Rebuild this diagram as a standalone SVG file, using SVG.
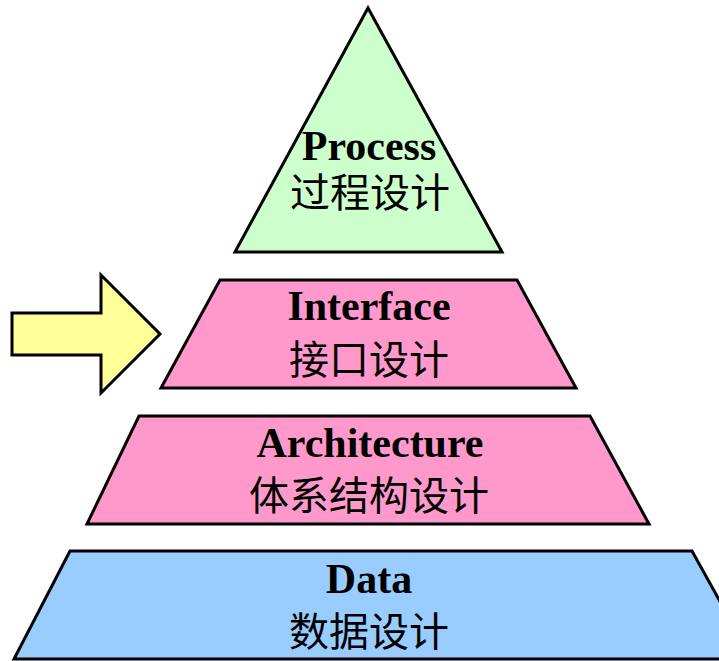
<svg xmlns="http://www.w3.org/2000/svg" width="719" height="661" viewBox="0 0 719 661">
<style>
.s{stroke:#000;stroke-width:3;stroke-linejoin:miter}
.en{font-family:"Liberation Serif","Times New Roman",serif;font-weight:bold;font-size:42px;text-anchor:middle;fill:#000}
.cn{font-family:"Noto Sans CJK SC",sans-serif;font-size:40px;text-anchor:middle;fill:#000}
</style>
<rect width="719" height="661" fill="#fff"/>
<g id="process">
<polygon class="s" points="368,8 502,252 235,252" fill="#ccffcc"/>
<text class="en" x="369" y="160">Process</text>
<text class="cn" x="370" y="207">过程设计</text>
</g>
<g id="interface">
<polygon class="s" points="220,280 517,280 576,388 161,388" fill="#ff99cc"/>
<text class="en" x="369" y="320">Interface</text>
<text class="cn" x="369" y="374">接口设计</text>
</g>
<g id="architecture">
<polygon class="s" points="139,416 590,416 649,524 87,524" fill="#ff99cc"/>
<text class="en" x="370" y="457">Architecture</text>
<text class="cn" x="369" y="510">体系结构设计</text>
</g>
<g id="data">
<polygon class="s" points="70,551 692,551 752,659 14,659" fill="#99ccff"/>
<text class="en" x="369" y="593">Data</text>
<text class="cn" x="369" y="646">数据设计</text>
</g>
<g id="connectors">
<polygon class="s" points="12,313 101,313 101,275 160,334 101,393 101,355 12,355" fill="#ffff99"/>
</g>
</svg>
